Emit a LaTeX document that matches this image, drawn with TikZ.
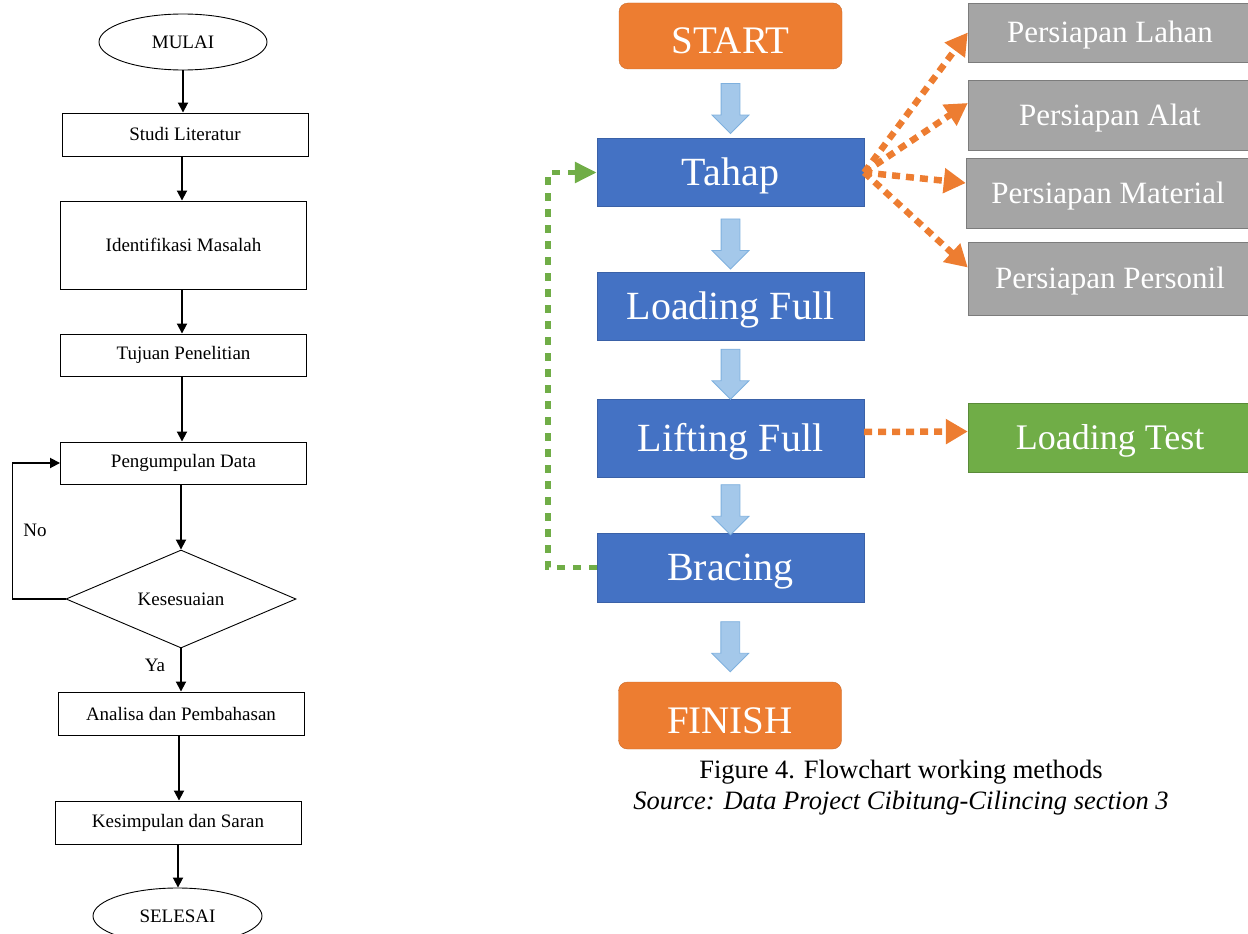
\documentclass[tikz,border=0pt]{standalone}
\usepackage{fontspec}
\setmainfont{Liberation Serif}
\usetikzlibrary{arrows.meta,shapes.geometric,shapes.arrows,positioning}
\definecolor{fcorange}{HTML}{ED7D31}
\definecolor{fcblue}{HTML}{4472C4}
\definecolor{fcgray}{HTML}{A5A5A5}
\definecolor{fcgreen}{HTML}{70AD47}
\definecolor{fcarrow}{HTML}{A4C8EA}
\definecolor{fcarrowline}{HTML}{7EB0DE}
\begin{document}
\begin{tikzpicture}[x=1pt,y=-1pt,
  every node/.style={inner sep=0pt},
  smallfont/.style={font=\fontsize{19}{22}\selectfont},
  term/.style={ellipse,draw,line width=0.9pt,minimum width=168pt,minimum height=56pt,smallfont},
  box/.style={draw,line width=0.9pt,minimum width=246pt,minimum height=43pt,smallfont},
  decide/.style={diamond,draw,line width=0.9pt,minimum width=230pt,minimum height=98pt,shape aspect=2.35,smallfont},
  arr/.style={line width=1.8pt,-{Triangle[length=10pt,width=10pt]}},
  endbox/.style={rounded corners=9pt,fill=fcorange,draw=fcorange!85!black,text=white,minimum width=223pt,minimum height=66pt,font=\fontsize{39}{44}\selectfont,text height=36pt,text depth=0pt},
  stepbox/.style={fill=fcblue,draw=fcblue!85!black,text=white,minimum width=267pt,font=\fontsize{40}{46}\selectfont,text height=30pt,text depth=3.6pt},
  prepbox/.style={fill=fcgray,draw=fcgray!75!black,text=white,minimum width=284pt,font=\fontsize{31}{36}\selectfont,text height=23.2pt,text depth=2.8pt},
  testbox/.style={fill=fcgreen,draw=fcgreen!80!black,text=white,minimum width=284pt,minimum height=69pt,font=\fontsize{36}{41}\selectfont,text height=27pt,text depth=3.2pt},
  blkarrow/.style={shape=single arrow,fill=fcarrow,draw=fcarrowline,line width=0.8pt,rotate=-90,minimum height=50pt,minimum width=36pt,inner xsep=0pt,inner ysep=9pt,single arrow head extend=9pt},
  dotorange/.style={draw=fcorange,line width=6.5pt,dash pattern=on 8pt off 6pt,-{Triangle[length=22pt,width=24pt]}},
  dotgreen/.style={draw=fcgreen,line width=5.5pt,dash pattern=on 8pt off 8pt,-{Triangle[length=22pt,width=20pt]}},
  capfont/.style={font=\fontsize{26.5}{30}\selectfont}]
\useasboundingbox (0,0) rectangle (1248,934);

\node[term] (mulai) at (183,42) {MULAI};
\node[box] (studi) at (185,134.5) {Studi Literatur};
\node[box,minimum height=88pt] (ident) at (183.5,245) {Identifikasi Masalah};
\node[box,minimum height=42pt] (tujuan) at (183.5,355) {Tujuan Penelitian};
\node[box,minimum height=42pt] (kumpul) at (183.5,463) {Pengumpulan Data};
\node[decide] (sesuai) at (181,599) {Kesesuaian};
\node[box] (analisa) at (181,713.5) {Analisa dan Pembahasan};
\node[box] (simpul) at (178,822.5) {Kesimpulan dan Saran};
\node[term,minimum width=169pt] (selesai) at (177.5,916) {SELESAI};
\node[smallfont] (ya) at (155,665) {Ya};
\node[smallfont] (no) at (35,530) {No};

\draw[arr] (mulai.south) -- (mulai.south |- studi.north);
\draw[arr] ([xshift=-3pt]studi.south) -- ([xshift=-3pt]studi.south |- ident.north);
\draw[arr] ([xshift=-1.5pt]ident.south) -- ([xshift=-1.5pt]ident.south |- tujuan.north);
\draw[arr] ([xshift=-1.5pt]tujuan.south) -- ([xshift=-1.5pt]tujuan.south |- kumpul.north);
\draw[arr] (sesuai.north |- kumpul.south) -- (sesuai.north);
\draw[arr] (sesuai.south) -- (sesuai.south |- analisa.north);
\draw[arr] ([xshift=-2pt]analisa.south) -- ([xshift=-2pt]analisa.south |- simpul.north);
\draw[arr] (simpul.south) -- (simpul.south |- selesai.north);
\draw[arr] (sesuai.west) -- ++(-53,0) |- (kumpul.west);

\node[endbox] (start) at (730.5,36) {START};
\node[stepbox,minimum height=68pt] (tahap) at (730.5,172.5) {Tahap};
\node[stepbox,minimum height=68pt] (loadfull) at (730.5,306) {Loading Full};
\node[stepbox,minimum height=78pt] (liftfull) at (730.5,438) {Lifting Full};
\node[stepbox,minimum height=69pt] (bracing) at (730.5,567.5) {Bracing};
\node[endbox,minimum height=67pt] (finish) at (730,715.5) {FINISH};

\path (start) -- (tahap) node[midway,blkarrow] {};
\path (tahap) -- (loadfull) node[midway,blkarrow] {};
\path (loadfull) -- (liftfull) node[midway,blkarrow] {};
\path (liftfull) -- (bracing) node[midway,blkarrow] {};
\path (bracing) -- (finish) node[midway,blkarrow] {};

\node[prepbox,minimum height=59pt] (lahan) at (1110,32.5) {Persiapan Lahan};
\node[prepbox,minimum height=70pt] (alat) at (1110,115) {Persiapan Alat};
\node[prepbox,minimum height=70pt] (material) at (1108,193) {Persiapan Material};
\node[prepbox,minimum height=73pt] (personil) at (1110,278.5) {Persiapan Personil};
\node[testbox] (loadtest) at (1110,437.5) {Loading Test};

\draw[dotorange] (tahap.east) -- (lahan.west);
\draw[dotorange] (tahap.east) -- ([yshift=12pt]alat.west);
\draw[dotorange] (tahap.east) -- ([yshift=10pt]material.west);
\draw[dotorange] (tahap.east) -- ([yshift=11pt]personil.west);
\draw[dotorange] ([yshift=6pt]liftfull.east) -- ([yshift=6pt]loadtest.west);
\draw[dotgreen] (bracing.west) -- ++(-49,0) |- (tahap.west);

\node[capfont] (caption) at (901,772) {Figure 4. Flowchart working methods};
\node[capfont,font=\fontsize{26.5}{30}\selectfont\itshape] (source) at (901,803) {Source: Data Project Cibitung-Cilincing section 3};
\end{tikzpicture}
\end{document}
